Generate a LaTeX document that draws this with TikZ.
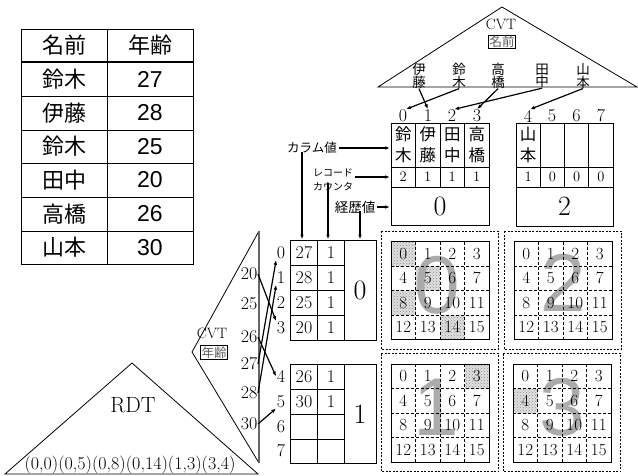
\documentclass[tikz,border=0pt]{standalone}
\usepackage{fontspec}
\newfontfamily\cjk{Noto Sans CJK JP}
\newfontfamily\arialf{Liberation Sans}
\usetikzlibrary{arrows.meta,patterns}
\newcommand\fsz[1]{\fontsize{#1}{#1}\selectfont}
\begin{document}
\begin{tikzpicture}[x=1pt,y=-1pt,
  arr/.style={line width=1.2pt,-{Latex[length=5pt,width=3.6pt]}},
  tbl/.style={line width=0.9pt},
  blk/.style={line width=0.8pt},
  tcj/.style={font=\cjk\fsz{22},inner sep=0pt},
  tnum/.style={font=\arialf\fsz{23},inner sep=0pt},
  idx/.style={font=\fsz{18},inner sep=0.5pt},
  cnt/.style={font=\fsz{14.5},inner sep=0pt},
  hist/.style={font=\fsz{28},inner sep=0pt},
  bcj/.style={font=\cjk\fontsize{16.5}{21}\selectfont,align=center,inner sep=0pt},
  val/.style={font=\fsz{18},inner sep=0.5pt},
  gnum/.style={font=\fsz{17},inner sep=0pt},
  bigd/.style={font=\arialf\fsz{82},text=black!33,inner sep=0pt},
  kbox/.style={draw,line width=0.8pt,font=\cjk\fsz{12.5},text=black!65,inner sep=1pt},
  frame/.style={line width=0.7pt,dash pattern=on 2pt off 1.5pt},
  gsolid/.style={line width=0.9pt},
  gdash/.style={line width=0.9pt,dash pattern=on 3pt off 2pt}]
\useasboundingbox (0,0) rectangle (638,475);

% ---- source table
\draw[tbl] (21,29) rectangle (193,264);
\draw[tbl] (107,29) -- (107,264);
\draw[line width=1.4pt] (21,62) -- (193,62);
\foreach \y in {96,130,163,197,231} \draw[tbl] (21,\y) -- (193,\y);
\node[tcj] (th1) at (64,45.5) {名前};
\node[tcj] (th2) at (150,45.5) {年齢};
\foreach \n/\a/\y [count=\i] in {鈴木/27/79, 伊藤/28/113, 鈴木/25/146.5, 田中/20/180, 高橋/26/214, 山本/30/247.5}{
  \node[tcj] (tn\i) at (64,\y) {\n};
  \node[tnum] (ta\i) at (150,\y) {\a};
}

% ---- CVT name triangle
\draw[line width=0.8pt] (378,87) -- (502,7) -- (637,87) -- cycle;
\node[font=\fsz{15},inner sep=0pt] (cvt1) at (501,24) {CVT};
\node[kbox] (cvt1k) at (502,42) {名前};
\foreach \n/\ca/\cb/\x in {nIto/伊/藤/419, nSuz/鈴/木/459, nTak/高/橋/498, nTan/田/中/542, nYam/山/本/583}
  \node[font=\cjk\fontsize{13.5}{12.5}\selectfont,align=center,inner sep=0pt] (\n) at (\x,76) {\ca\\\cb};
\foreach \i/\x in {0/403,1/428,2/452,3/477,4/528,5/552,6/576.5,7/601}
  \node[idx] (ti\i) at (\x,116) {\i};
\draw[arr] (nIto.south) -- (ti1.north);
\draw[arr] (nSuz.south) -- ([xshift=3pt]ti0.north);
\draw[arr] (nTak.south) -- (ti3.north);
\draw[arr] (nTan.south) -- ([xshift=2pt]ti2.north);
\draw[arr] (nYam.south) -- ([xshift=2pt]ti4.north);

% ---- name block 0
\draw[blk] (391,123) rectangle (489,225);
\draw[blk] (391,167) -- (489,167) (391,187) -- (489,187);
\foreach \x in {415.5,440,464.5} \draw[blk] (\x,123) -- (\x,187);
\foreach \ca/\cb/\c/\x [count=\i] in {鈴/木/2/403.25, 伊/藤/1/427.75, 田/中/1/452.25, 高/橋/1/476.75}{
  \node[bcj] (bn\i) at (\x,145) {\ca\\\cb};
  \node[cnt] (bc\i) at (\x,177) {\c};
}
\node[hist] (bh0) at (440,206) {0};

% ---- name block 2
\draw[blk] (516,123) rectangle (613,226);
\draw[blk] (516,167) -- (613,167) (516,187) -- (613,187);
\foreach \x in {540.25,564.5,588.75} \draw[blk] (\x,123) -- (\x,187);
\node[bcj] (bn5) at (528,145) {山\\本};
\foreach \c/\x [count=\i from 5] in {1/528.1, 0/552.4, 0/576.6, 0/600.9}
  \node[cnt] (bc\i) at (\x,177) {\c};
\node[hist] (bh2) at (564.5,206.5) {2};

% ---- legend labels
\coordinate (cn) at (390,148);
\coordinate (rc) at (390,177);
\coordinate (hc) at (390,207);
\coordinate (ac0) at (302,239.5);
\coordinate (ac1) at (328,239.5);
\coordinate (ac2) at (360,239.5);
\node[font=\cjk\fsz{12.5},inner sep=0pt] (lCol) at (312,148) {カラム値};
\node[font=\cjk\fontsize{10}{14}\selectfont,align=left,inner sep=0pt] (lRec) at (333,180) {レコード\\カウンタ};
\node[font=\cjk\fsz{13.5},inner sep=0pt] (lHist) at (355,207) {経歴値};
\draw[arr] ([xshift=2pt]lCol.east) -- (cn);
\draw[arr] ([xshift=2pt]lRec.east |- rc) -- (rc);
\draw[arr] ([xshift=2pt]lHist.east) -- (hc);
\draw[arr] ([yshift=2pt]lCol.south -| ac0) -- (ac0);
\draw[arr] ([yshift=8pt]lRec.south -| ac1) -- (ac1);
\draw[arr] ([yshift=2pt]lHist.south -| ac2) -- (ac2);

% ---- age blocks
\draw[blk] (290,240.5) rectangle (376,340);
\draw[blk] (317.5,240.5) -- (317.5,340) (344,240.5) -- (344,340);
\foreach \y in {265.5,290.5,315.5} \draw[blk] (290,\y) -- (344,\y);
\draw[blk] (290,364) rectangle (376,463.5);
\draw[blk] (317.5,364) -- (317.5,463.5) (344,364) -- (344,463.5);
\foreach \y in {389,414,439} \draw[blk] (290,\y) -- (344,\y);
\foreach \v/\y [count=\i] in {27/253, 28/278, 25/303, 20/328, 26/376.5, 30/401.5}{
  \node[val] (av\i) at (304,\y) {\v};
  \node[val] (ak\i) at (331,\y) {1};
}
\node[hist] (ah0) at (360,290) {0};
\node[hist] (ah1) at (360,414) {1};
\foreach \i/\y in {0/253,1/278,2/303,3/328,4/376.5,5/401.5,6/426.5,7/451}
  \node[idx] (ai\i) at (281,\y) {\i};

% ---- CVT age triangle
\draw[line width=0.8pt] (259,231) -- (192,352) -- (259,463);
\draw[line width=1.3pt,black!60] (259,231) -- (259,463);
\node[font=\fsz{15},inner sep=0pt] (cvt2) at (212,333) {CVT};
\node[kbox] (cvt2k) at (214,352.5) {年齢};
\foreach \v/\y in {20/274,25/304,26/337,27/364,28/393,30/424}
  \node[val,anchor=east] (v\v) at (258,\y) {\v};
\draw[arr] (v20.east) -- (ai3.north west);
\draw[arr] (v26.east) -- (ai4.west);
\draw[arr] (v27.east) -- (ai0.south west);
\draw[arr] (v28.east) -- (ai1.south west);
\draw[arr] (v30.east) -- (ai5.south west);

% ---- RDT
\draw[line width=0.8pt] (5,474) -- (132,363) -- (258,474) -- cycle;
\node[font=\fsz{22},inner sep=0pt] (rdt) at (133,405) {RDT};
\node[font=\fsz{18},inner sep=0pt] (rdtseq) at (130,465) {(0,0)(0,5)(0,8)(0,14)(1,3)(3,4)};

% ---- bitmap grids
\foreach \x/\y in {391/241.5, 415.5/266, 391/290.5, 440/315, 464.5/364, 513/388.5}{
  \fill[black!12] (\x,\y) rectangle ++(24.5,24.5);
  \fill[pattern=crosshatch dots,pattern color=black!45] (\x,\y) rectangle ++(24.5,24.5);
}
\node[bigd] (big0) at (437,285) {0};
\node[bigd] (big2) at (563,283) {2};
\node[bigd] (big1) at (436,407) {1};
\node[bigd] (big3) at (562,407) {3};
\foreach \gx/\gy/\dig in {391/241.5/0, 514/241.5/2, 391/364/1, 513/364/3}{
  \draw[frame] ({\gx-10},{\gy-10.5}) rectangle ({\gx+107.5},{\gy+107.5});
  \draw[gsolid] (\gx,\gy) rectangle ++(98,98);
  \foreach \i in {1,2,3}{
    \draw[gdash] ({\gx+24.5*\i},\gy) -- ++(0,98);
    \draw[gdash] (\gx,{\gy+24.5*\i}) -- ++(98,0);
  }
  \foreach \r in {0,...,3}
    \foreach \c in {0,...,3}{
      \pgfmathtruncatemacro\k{4*\r+\c}
      \node[gnum] (g\dig-\k) at ({\gx+12.25+24.5*\c},{\gy+12.25+24.5*\r}) {\k};
    }
}
\end{tikzpicture}
\end{document}
